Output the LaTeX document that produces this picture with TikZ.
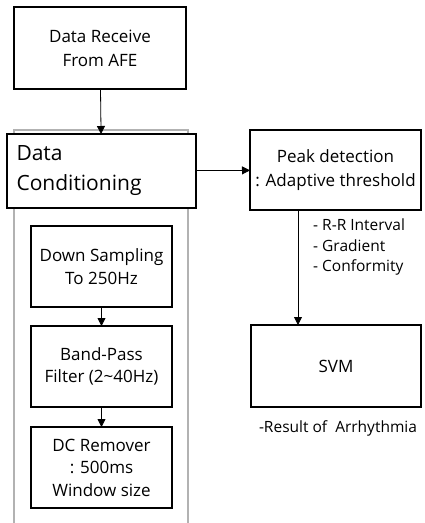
\documentclass[tikz,border=0pt]{standalone}
\usepackage{fontspec}
\setmainfont{Open Sans}
\usetikzlibrary{arrows.meta}
\tikzstyle{block}=[rectangle,draw,line width=2.6pt,align=center,inner sep=0pt,outer sep=0pt,font=\fontsize{17}{24}\selectfont]
\tikzstyle{stage}=[rectangle,draw,line width=1.3pt,align=center,inner sep=0pt,outer sep=0pt,minimum width=141pt,minimum height=81pt,font=\fontsize{17}{22.5}\selectfont]
\tikzstyle{note}=[align=left,inner sep=0pt,font=\fontsize{15.5}{20.5}\selectfont]

\begin{document}
\begin{tikzpicture}[x=1pt,y=-1pt,>={Triangle[length=8pt,width=8pt]}]
		\useasboundingbox (0,0) rectangle (424,523);
		% conditioning container, open at the bottom
		\draw[gray!60,line width=1.5pt] (14,540) -- (14,130) -- (188,130) -- (188,540);
		
		\node[block,minimum width=172pt,minimum height=82pt] (recv) at (100,48) {Data Receive\\From AFE};
		\node[block,minimum width=189pt,minimum height=74pt,fill=white,align=left,text width=170pt,font=\fontsize{21}{30}\selectfont] (cond) at (101.5,171) {Data\\Conditioning};
		\node[stage] (down) at (101.5,266.5) {Down Sampling\\To 250Hz};
		\node[stage] (band) at (101.5,366.5) {Band-Pass\\Filter (2\textasciitilde 40Hz)};
		\node[stage] (dcr) at (101.5,467.5) {DC Remover\\: 500ms\\Window size};
		
		\node[block,minimum width=171pt,minimum height=80pt] (peak) at (335.5,170) {Peak detection\\: Adaptive threshold};
		\node[block,minimum width=170pt,minimum height=82pt] (svm) at (336,366) {SVM};
		
		\node[note,anchor=west] (feat) at (313,247) {- R-R Interval\\- Gradient\\- Conformity};
		\node[note,anchor=center] (res) at (338,428) {-Result of~~Arrhythmia};
		
		\coordinate (tap) at (298,210);
		
		\draw[->,line width=0.8pt] (recv) edge (cond);
		\draw[->,line width=0.8pt] (cond) edge (peak);
		\draw[->,line width=0.8pt] (down) edge (band);
		\draw[->,line width=0.8pt] (band) edge (dcr);
		\draw[->,line width=0.8pt] (tap) -- (tap |- svm.north);
\end{tikzpicture}
\end{document}
